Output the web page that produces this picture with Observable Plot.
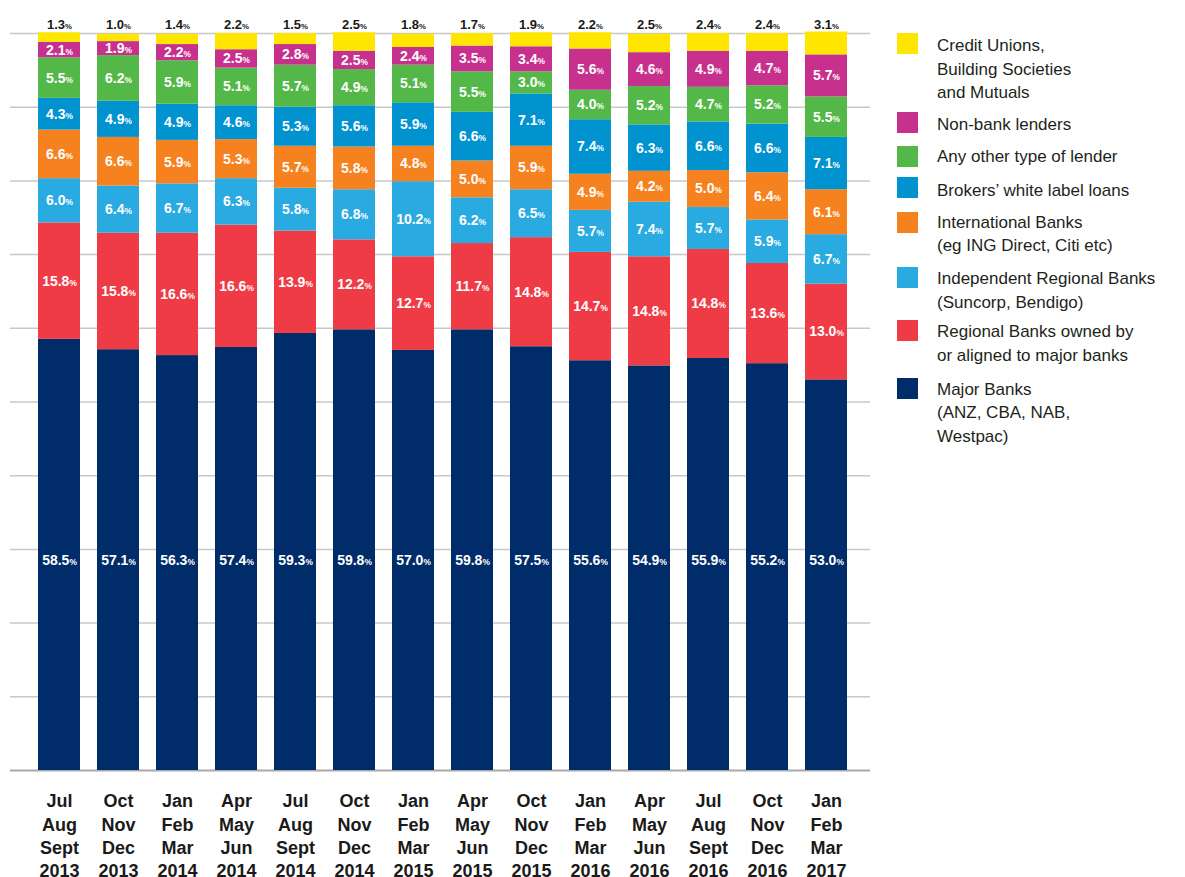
<!DOCTYPE html>
<html>
<head>
<meta charset="utf-8">
<script src="https://cdn.jsdelivr.net/npm/d3@7"></script>
<script src="https://cdn.jsdelivr.net/npm/@observablehq/plot@0.6"></script>
<style>
body{margin:0;background:#fff;font-family:"Liberation Sans",Arial,Helvetica,sans-serif;}
#wrap{position:relative;width:1185px;height:877px;overflow:hidden;}
#chart{position:absolute;left:0;top:0;}
.sw{position:absolute;left:897px;width:21px;height:21px;}
.lt{position:absolute;left:937px;font-size:17px;line-height:23.5px;color:#231f20;white-space:nowrap;}
</style>
</head>
<body>
<div id="wrap"><div id="chart"></div><div id="legend"></div></div>
<script>
// ---- data ----
const periods = [
  "Jul\nAug\nSept\n2013","Oct\nNov\nDec\n2013","Jan\nFeb\nMar\n2014","Apr\nMay\nJun\n2014",
  "Jul\nAug\nSept\n2014","Oct\nNov\nDec\n2014","Jan\nFeb\nMar\n2015","Apr\nMay\nJun\n2015",
  "Oct\nNov\nDec\n2015","Jan\nFeb\nMar\n2016","Apr\nMay\nJun\n2016","Jul\nAug\nSept\n2016",
  "Oct\nNov\nDec\n2016","Jan\nFeb\nMar\n2017"
];
const seriesNames = [
  "Major Banks",
  "Regional Banks owned by or aligned to major banks",
  "Independent Regional Banks",
  "International Banks",
  "Brokers' white label loans",
  "Any other type of lender",
  "Non-bank lenders",
  "Credit Unions, Building Societies and Mutuals"
];
const majorBanks        = [58.5,57.1,56.3,57.4,59.3,59.8,57.0,59.8,57.5,55.6,54.9,55.9,55.2,53.0];
const regionalOwned     = [15.8,15.8,16.6,16.6,13.9,12.2,12.7,11.7,14.8,14.7,14.8,14.8,13.6,13.0];
const independentRegional=[6.0,6.4,6.7,6.3,5.8,6.8,10.2,6.2,6.5,5.7,7.4,5.7,5.9,6.7];
const internationalBanks= [6.6,6.6,5.9,5.3,5.7,5.8,4.8,5.0,5.9,4.9,4.2,5.0,6.4,6.1];
const brokersWhiteLabel = [4.3,4.9,4.9,4.6,5.3,5.6,5.9,6.6,7.1,7.4,6.3,6.6,6.6,7.1];
const anyOtherLender    = [5.5,6.2,5.9,5.1,5.7,4.9,5.1,5.5,3.0,4.0,5.2,4.7,5.2,5.5];
const nonBankLenders    = [2.1,1.9,2.2,2.5,2.8,2.5,2.4,3.5,3.4,5.6,4.6,4.9,4.7,5.7];
const creditUnions      = [1.3,1.0,1.4,2.2,1.5,2.5,1.8,1.7,1.9,2.2,2.5,2.4,2.4,3.1];
const yGridTicks = [0,10,20,30,40,50,60,70,80,90,100];

const seriesValues = [majorBanks, regionalOwned, independentRegional, internationalBanks,
  brokersWhiteLabel, anyOtherLender, nonBankLenders, creditUnions];
const colors = ["#002c6a","#ee3b45","#29aae1","#f5821f","#0093d0","#54b848","#c7308d","#ffe600"];

const legendLabels = [
  "Credit Unions,<br>Building Societies<br>and Mutuals",
  "Non-bank lenders",
  "Any other type of lender",
  "Brokers’ white label loans",
  "International Banks<br>(eg ING Direct, Citi etc)",
  "Independent Regional Banks<br>(Suncorp, Bendigo)",
  "Regional Banks owned by<br>or aligned to major banks",
  "Major Banks<br>(ANZ, CBA, NAB,<br>Westpac)"
];
const legendLayout = [[33,34],[112,112.5],[145.5,145],[177,178.5],[212,210.5],[267,267],[320,320],[378,377.5]];

// ---- tables ----
const rows = [];
periods.forEach((p, i) => seriesNames.forEach((s, j) => rows.push({period: p, series: s, value: seriesValues[j][i]})));

const majorLabelPos = d3.mean(majorBanks) / 2;
const segLabels = [];
periods.forEach((p, i) => {
  let base = 0;
  for (let j = 0; j < seriesNames.length - 1; j++) {
    const v = seriesValues[j][i];
    segLabels.push({period: p, value: v, pos: j === 0 ? majorLabelPos : base + v / 2});
    base += v;
  }
});
const topLabels = periods.map((p, i) => ({period: p, value: creditUnions[i]}));

// ---- chart ----
const chart = Plot.plot({
  width: 880,
  height: 877,
  marginTop: 33,
  marginBottom: 107,
  marginLeft: 10,
  marginRight: 10,
  style: {fontFamily: "Liberation Sans, Arial, Helvetica, sans-serif", background: "#fff"},
  x: {domain: periods, insetLeft: 15, insetRight: 10, paddingInner: 0.28, paddingOuter: 0.14, label: null},
  y: {domain: [0, 100], axis: null},
  color: {domain: seriesNames, range: colors},
  marks: [
    Plot.ruleY(yGridTicks.filter(d => d > 0), {stroke: "#c8c8c8", strokeWidth: 1.5}),
    Plot.ruleY([0], {stroke: "#a8a8a8", strokeWidth: 2}),
    Plot.barY(rows, {x: "period", y: "value", fill: "series", order: seriesNames}),
    Plot.text(segLabels, {x: "period", y: "pos", text: d => d.value.toFixed(1), fill: "#fff",
      fontWeight: "bold", fontSize: 14}),
    Plot.text(topLabels, {x: "period", frameAnchor: "top", lineAnchor: "middle", dy: -9,
      text: d => d.value.toFixed(1), fill: "#1a1a1a", fontWeight: "bold", fontSize: 13}),
    Plot.axisX({tickSize: 0, tickPadding: 20, fontSize: 18, fontWeight: "bold", lineHeight: 1.3,
      fill: "#1a1a1a", lineAnchor: "top", label: null})
  ]
});
document.getElementById("chart").appendChild(chart);

// small "%" signs after the value labels
const ns = "http://www.w3.org/2000/svg";
chart.querySelectorAll("text").forEach(t => {
  if (/^\d+\.\d$/.test(t.textContent.trim())) {
    const ts = document.createElementNS(ns, "tspan");
    ts.setAttribute("font-size", "0.6em");
    ts.textContent = "%";
    t.appendChild(ts);
  }
});

// ---- legend ----
const legend = document.getElementById("legend");
const order = [7,6,5,4,3,2,1,0];
order.forEach((si, k) => {
  const sw = document.createElement("div");
  sw.className = "sw";
  sw.style.top = legendLayout[k][0] + "px";
  sw.style.background = colors[si];
  legend.appendChild(sw);
  const lt = document.createElement("div");
  lt.className = "lt";
  lt.style.top = legendLayout[k][1] + "px";
  lt.innerHTML = legendLabels[k];
  legend.appendChild(lt);
});
</script>
</body>
</html>
